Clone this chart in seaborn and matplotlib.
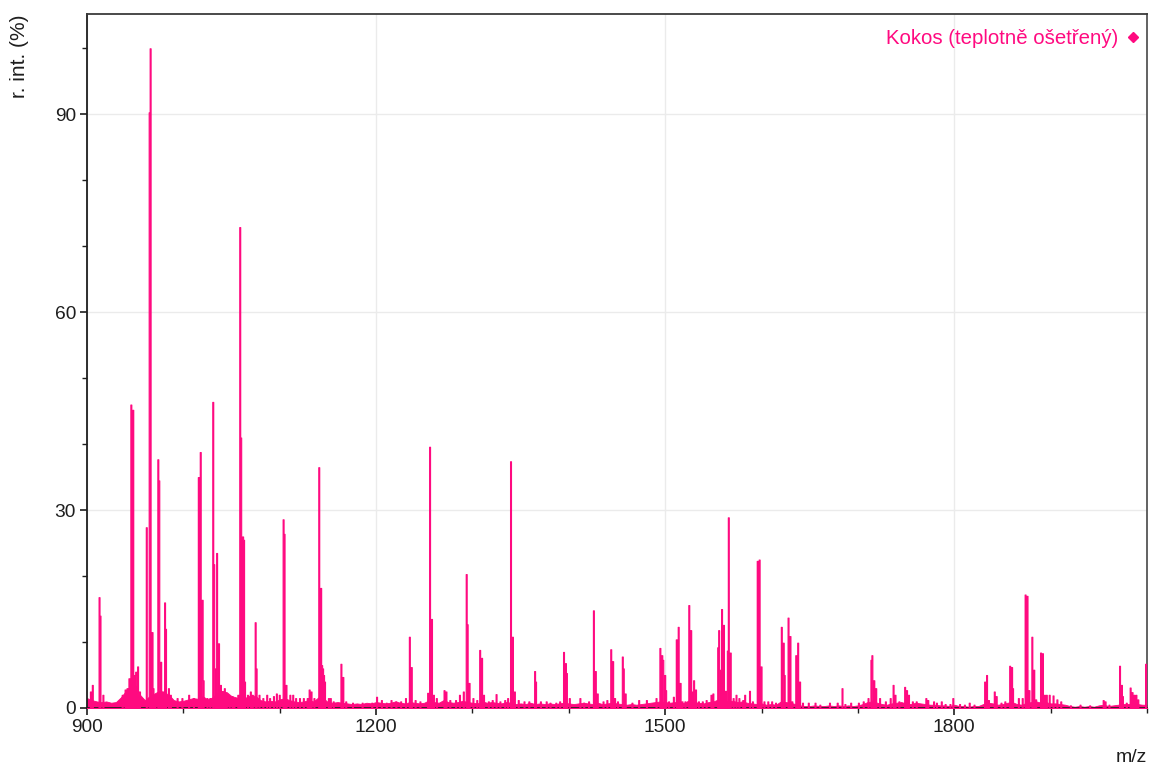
import numpy as np
import matplotlib
matplotlib.use("Agg")
import matplotlib.pyplot as plt
from matplotlib.lines import Line2D
from matplotlib.ticker import MultipleLocator
import seaborn as sns

# Centroided peaks: m/z and relative intensity (%)
peak_mz = [
    903, 905, 912, 913.6, 916, 936, 939, 941, 943, 945.6, 947, 949, 950, 952, 954,
    961.5, 964, 965.3, 967, 968, 970, 973, 974.7, 976, 978, 980, 981.6, 984, 986,
    993, 998, 1005.5, 1010, 1015, 1017.5, 1019, 1020.5, 1024, 1027, 1030.3, 1031.7,
    1033, 1034.8, 1036, 1038, 1040, 1042, 1044, 1047, 1050, 1052, 1056, 1058, 1059,
    1060, 1061, 1062, 1063, 1066, 1069, 1071, 1074, 1075.7, 1078, 1082, 1086, 1089,
    1093, 1096, 1099, 1103, 1104.6, 1106, 1110, 1113, 1116, 1120, 1124, 1128, 1130,
    1132, 1135, 1140.6, 1142, 1143, 1144, 1145, 1146, 1150, 1152, 1155, 1163.4, 1165,
    1168, 1175, 1185, 1195, 1200.7, 1205, 1210, 1215, 1220, 1225, 1230, 1234.3, 1236,
    1240, 1245, 1253, 1255.2, 1257, 1259, 1262, 1270, 1272, 1276, 1282, 1286.8, 1290,
    1293, 1294.4, 1296, 1300, 1304, 1307.5, 1309, 1311, 1316, 1320, 1324, 1328, 1333,
    1336, 1339.7, 1341.4, 1343, 1347, 1353, 1358, 1364.3, 1365.6, 1370, 1376.7, 1380,
    1386, 1390, 1394.6, 1396.5, 1397.8, 1400, 1411, 1415, 1420, 1425.8, 1427.5, 1429,
    1435, 1439, 1443.4, 1445, 1447, 1450, 1455, 1456.8, 1458, 1465, 1472, 1480, 1490.8,
    1494.2, 1496, 1497.5, 1499, 1500.5, 1503, 1508.7, 1511.5, 1513.2, 1515, 1517, 1520,
    1524.6, 1526.3, 1528, 1529.5, 1531, 1534, 1538, 1542, 1547, 1549, 1554, 1555.7,
    1557, 1558.8, 1560.5, 1562, 1564, 1565.4, 1567, 1570, 1573, 1576, 1580, 1582.4,
    1587.5, 1590, 1595.5, 1597, 1599, 1602, 1606, 1610, 1614, 1620.3, 1622, 1623.5,
    1627.3, 1629, 1631, 1635.9, 1637.3, 1639, 1642, 1648, 1655, 1660, 1670, 1678,
    1683.6, 1686, 1692, 1700, 1705, 1710, 1713, 1714.7, 1716, 1718, 1722, 1728, 1733,
    1736, 1738, 1742, 1748, 1750, 1752, 1756, 1760, 1770, 1772, 1778, 1781, 1786,
    1790, 1795, 1798.4, 1805, 1810, 1815, 1820, 1831, 1833, 1835, 1841.6, 1843, 1848,
    1852, 1857, 1859, 1860.5, 1866, 1870.3, 1873.8, 1875, 1877, 1880.3, 1882, 1884,
    1889.3, 1891, 1893, 1895, 1898, 1902, 1906, 1910, 1920, 1930, 1940, 1954, 1956,
    1960, 1971.2, 1973, 1974.5, 1978, 1982.3, 1984, 1986, 1988, 1990, 1998,
]
peak_int = [
    2.5, 3.5, 16.8, 14.0, 2.0, 2.0, 2.8, 3.0, 4.5, 46.0, 45.2, 5.0, 5.5, 6.3, 2.5,
    27.4, 90.3, 100.0, 11.5, 3.0, 2.0, 37.7, 34.5, 7.0, 2.5, 16.0, 12.0, 3.0, 2.0,
    1.5, 1.5, 2.0, 1.5, 35.0, 38.8, 16.4, 4.2, 1.5, 1.5, 46.4, 21.8,
    6.0, 23.5, 9.8, 3.5, 2.5, 3.0, 2.0, 1.5, 1.8, 1.5, 2.0, 72.9, 41.0,
    26.0, 26.0, 25.5, 4.0, 2.0, 2.5, 2.0, 13.0, 6.0, 2.0, 1.5, 2.0, 1.5,
    1.8, 2.2, 2.0, 28.6, 26.4, 3.5, 2.0, 2.0, 1.5, 1.5, 1.5, 1.5, 2.8,
    2.5, 1.5, 36.5, 18.2, 6.5, 6.0, 5.0, 4.0, 1.5, 1.5, 1.0, 6.7, 4.7,
    1.0, 0.8, 0.8, 0.8, 1.7, 1.2, 0.8, 1.2, 1.0, 1.0, 1.5, 10.8, 6.2,
    1.2, 1.0, 2.3, 39.6, 13.5, 2.0, 1.5, 2.7, 2.5, 1.2, 1.2, 2.0, 2.5,
    20.3, 12.7, 3.8, 1.5, 1.2, 8.8, 7.6, 2.0, 1.0, 1.2, 2.1, 1.0, 1.2,
    1.5, 37.4, 10.8, 2.5, 1.2, 1.0, 1.0, 5.6, 4.0, 1.0, 1.0, 0.8,
    0.8, 1.0, 8.5, 6.8, 5.3, 1.5, 1.5, 0.8, 1.0, 14.8, 5.6, 2.2,
    1.0, 1.2, 8.9, 7.1, 1.5, 1.0, 7.8, 6.0, 2.2, 0.8, 1.2, 1.2, 1.5,
    9.1, 8.0, 7.3, 5.0, 2.7, 1.0, 1.7, 10.4, 12.3, 3.8, 1.0, 1.0,
    15.6, 11.8, 2.5, 4.2, 2.8, 1.0, 1.0, 1.2, 2.0, 2.2, 9.2, 11.8,
    5.8, 15.0, 12.6, 2.6, 8.7, 28.9, 8.4, 1.5, 2.0, 1.5, 1.2, 2.0,
    2.6, 1.0, 22.3, 22.5, 6.3, 1.0, 1.0, 1.0, 0.8, 12.3, 9.9, 5.0,
    13.7, 10.9, 1.0, 8.0, 9.9, 4.0, 0.8, 0.8, 0.8, 0.5, 0.8, 0.8,
    3.0, 0.6, 0.8, 0.8, 1.0, 1.5, 7.3, 8.0, 4.2, 3.0, 1.5, 1.0, 1.5,
    3.5, 2.0, 1.0, 3.2, 2.7, 2.0, 1.0, 1.0, 1.5, 1.2, 1.0, 0.8, 1.0,
    0.6, 0.6, 1.5, 0.6, 0.5, 0.8, 0.5, 4.0, 5.0, 1.2, 2.5, 1.8, 0.8,
    1.0, 6.4, 6.2, 3.0, 1.5, 1.5, 17.2, 17.0, 2.7, 10.8, 5.8, 1.3,
    8.4, 8.3, 2.0, 2.0, 2.0, 1.9, 1.3, 1.0, 0.4, 0.5, 0.4, 1.2, 1.0,
    0.5, 6.4, 3.5, 1.8, 0.8, 3.1, 2.4, 2.0, 2.0, 1.3, 6.7,
]

# Chemical-noise baseline sampled every 5 m/z from 900 to 2000
noise_mz = np.arange(900, 2001, 5)
noise_int = [
    1.5, 1.2, 1.0, 0.9, 1.0, 0.8, 0.9, 1.6, 2.5, 3.2, 3.5, 2.0,
    1.2, 1.8, 2.2, 2.6, 2.4, 2.0, 1.2, 1.0, 1.1, 1.3, 1.5, 1.4,
    1.8, 1.3, 1.6, 2.2, 2.6, 2.4, 1.8, 1.6, 1.2, 1.6, 2.0, 1.8,
    1.2, 1.0, 1.1, 1.0, 1.3, 1.5, 1.2, 1.0, 0.9, 1.0, 1.2, 1.0,
    1.6, 1.5, 0.9, 0.8, 0.9, 0.8, 0.7, 0.6, 0.7, 0.6, 0.8, 0.7,
    0.9, 0.8, 0.7, 0.8, 1.0, 0.8, 0.7, 0.9, 0.8, 0.7, 0.8, 1.2,
    0.9, 0.8, 1.2, 0.9, 0.8, 0.9, 1.1, 0.9, 0.8, 0.7, 1.0, 0.8,
    0.9, 0.8, 0.7, 0.9, 0.8, 0.6, 0.7, 0.6, 0.8, 0.6, 0.7, 0.6,
    0.7, 0.6, 0.7, 0.8, 0.7, 0.6, 0.7, 0.8, 0.7, 0.6, 0.8, 0.6,
    0.7, 0.8, 0.7, 0.6, 0.5, 0.6, 0.5, 0.6, 0.7, 0.8, 0.9, 1.0,
    0.9, 0.8, 0.9, 0.7, 0.8, 1.2, 0.9, 0.8, 0.7, 0.9, 1.0, 1.3,
    1.2, 1.0, 1.1, 0.9, 1.0, 0.8, 0.7, 0.6, 0.7, 0.5, 0.6, 0.5,
    1.0, 0.9, 0.8, 0.6, 0.4, 0.3, 0.3, 0.4, 0.3, 0.3, 0.4, 0.3,
    0.4, 0.3, 0.4, 0.3, 0.4, 0.6, 0.9, 1.0, 0.8, 0.6, 0.5, 0.7,
    0.8, 0.9, 0.7, 0.6, 0.8, 0.7, 0.6, 0.5, 0.5, 0.4, 0.4, 0.3,
    0.5, 0.3, 0.3, 0.2, 0.3, 0.3, 0.6, 0.8, 0.7, 0.5, 0.6, 0.8,
    0.9, 0.6, 0.5, 0.8, 0.9, 1.0, 0.8, 0.9, 0.7, 0.7, 0.6, 0.5,
    0.3, 0.2, 0.3, 0.2, 0.3, 0.2, 0.4, 0.5, 0.3, 0.4, 0.5, 0.6,
    0.6, 0.7, 0.6, 0.5, 0.5,
]

x_ticks = [900, 1200, 1500, 1800]
y_ticks = [0, 30, 60, 90]
series_name = "Kokos (teplotně ošetřený)"
x_title = "m/z"
y_title = "r. int. (%)"

PINK = "#FF0A80"
INK = "#1E1E1E"

sns.set_style("white")
plt.rcParams["font.family"] = ["Liberation Sans", "DejaVu Sans"]

W, H = 1152, 769
fig = plt.figure(figsize=(W / 100, H / 100), dpi=100)
ax = fig.add_axes([87 / W, 1 - 708 / H, 1060 / W, 694 / H])

# baseline noise band
ax.fill_between(noise_mz, 0, noise_int, color=PINK, linewidth=0.6, zorder=2)

# peak sticks, one bin per m/z unit
sns.histplot(
    x=peak_mz, weights=peak_int, binwidth=1, binrange=(900, 2000),
    element="step", fill=True, color=PINK, alpha=1.0,
    edgecolor=PINK, linewidth=0.8, ax=ax, zorder=3,
)

ax.set_xlim(900, 2000)
ax.set_ylim(0, 105.2)
ax.set_xticks(x_ticks)
ax.set_yticks(y_ticks)
ax.xaxis.set_minor_locator(MultipleLocator(100))
ax.yaxis.set_minor_locator(MultipleLocator(10))

ax.grid(which="major", color="#EBEBEB", linewidth=1.0)
ax.set_axisbelow(True)

ax.tick_params(which="major", direction="out", length=5, width=1.2,
               color=INK, labelcolor=INK, labelsize=13.8, pad=3,
               left=True, bottom=True)
ax.tick_params(which="minor", direction="out", length=3.5, width=1.0,
               color=INK, left=True, bottom=True)

for side in ["left", "bottom", "top", "right"]:
    ax.spines[side].set_visible(True)
    ax.spines[side].set_linewidth(1.3)
ax.spines["left"].set_color(INK)
ax.spines["bottom"].set_color(INK)
ax.spines["top"].set_color("#3A3A3A")
ax.spines["right"].set_color("#555555")

ax.set_ylabel(y_title, loc="top", fontsize=15, color=INK, va="center")
ax.yaxis.set_label_coords(-0.064, 1.0)
ax.set_xlabel(x_title, loc="right", fontsize=14, color=INK, va="center")
ax.xaxis.set_label_coords(1.0, -0.071)

handle = Line2D([], [], marker="D", linestyle="", color=PINK, markersize=5)
ax.legend([handle], [series_name], loc="upper right", markerfirst=False,
          frameon=False, handletextpad=0.35, handlelength=0.7,
          borderaxespad=0.0, bbox_to_anchor=(1.001, 0.99),
          fontsize=14.7, labelcolor=PINK)

fig.savefig("out.png", dpi=100)
